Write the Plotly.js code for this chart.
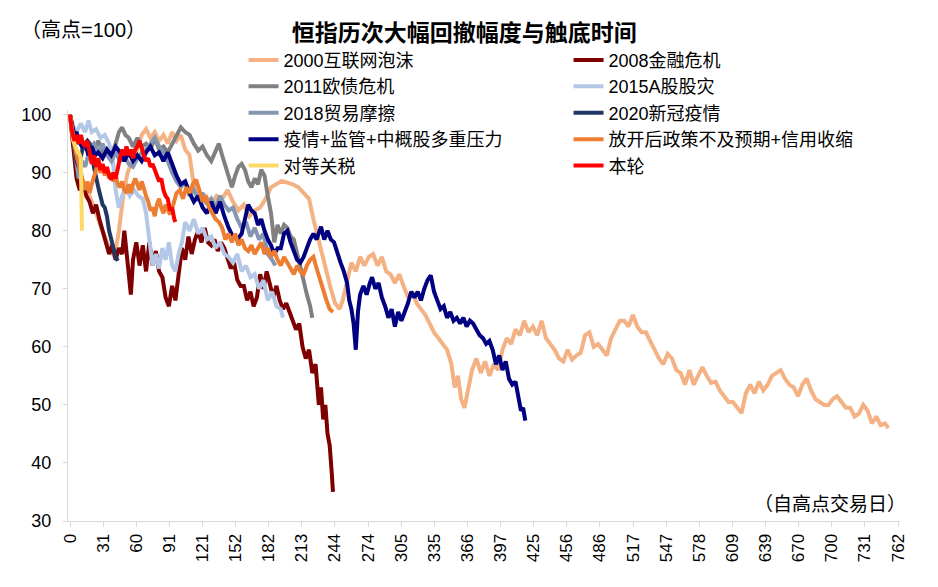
<!DOCTYPE html>
<html>
<head>
<meta charset="utf-8">
<script src="https://cdn.plot.ly/plotly-3.0.1.min.js"></script>
<style>
  html, body { margin: 0; padding: 0; background: #fff; }
  #chart { width: 938px; height: 587px; }
</style>
</head>
<body>
<div id="chart"></div>
<script>
// 横轴刻度（自高点交易日）
var tickLabels = ["0", "31", "60", "91", "121", "152", "182", "213", "244", "274", "305", "335", "366",
    "397", "425", "456", "486", "517", "547", "578", "609", "639", "670", "700", "731", "762"];

// 2000互联网泡沫
var days2000 = [0, 2, 5, 8, 12, 18, 22, 26, 30, 34, 38, 41, 45, 49, 53, 57, 62, 66, 70, 74,
    78, 82, 86, 90, 94, 98, 102, 106, 110, 113, 116, 120, 125, 130, 135, 140, 145, 150, 155, 160,
    165, 170, 175, 180, 185, 190, 195, 200, 205, 210, 215, 220, 224, 228, 232, 236, 240, 244, 248, 251,
    255, 259, 263, 267, 271, 275, 279, 283, 287, 291, 295, 299, 303, 307, 311, 315, 319, 323, 327, 331, 335,
    339, 343, 347, 351, 354, 357, 360, 363, 366, 370, 374, 378, 382, 386, 390, 394, 398, 402, 406, 410,
    414, 418, 422, 426, 430, 434, 438, 442, 446, 450, 454, 458, 462, 466, 470, 474, 478, 482, 486, 490,
    494, 498, 502, 506, 510, 514, 518, 522, 526, 530, 534, 538, 542, 546, 550, 554, 558, 562, 566, 570,
    574, 578, 582, 586, 590, 594, 598, 602, 606, 610, 614, 618, 622, 626, 630, 634, 638, 642, 646, 650,
    654, 658, 662, 666, 670, 674, 678, 682, 686, 690, 694, 698, 702, 706, 710, 714, 718, 722, 726, 730,
    734, 738, 742, 746, 750, 753];
var val2000 = [100, 96, 92, 89, 88, 86, 84, 82, 80, 78, 76.5, 75.5, 80, 86, 90, 92, 94, 96.5, 97.5, 96,
    97, 95.5, 96.5, 95, 97, 95.5, 96.5, 94, 93, 89, 86.5, 85.5, 86, 84.5, 86, 85.5, 87, 85, 83.5, 84.5,
    82.5, 83.5, 84, 85.5, 87.5, 88, 88.6, 88.3, 88, 87.5, 86.5, 85.5, 82, 79, 75.5, 73, 70, 67.5, 66.5, 68,
    71.5, 74.5, 73, 75.5, 74, 75.5, 76, 74, 75.5, 73, 72.5, 71, 72.5, 70.5, 68.5, 69.5, 67.5, 66.5, 65.5, 64, 62.5,
    61.5, 60.5, 59.5, 57, 53, 55, 51, 49.5, 52.5, 56, 58, 55.5, 57.5, 55, 57, 56, 59.5, 61.5, 60.5, 63,
    62, 64.5, 62.5, 63.5, 62, 64.5, 61.5, 60.5, 59.5, 58, 57.5, 59.5, 57.8, 58.5, 59, 62, 62.5, 60, 60.5, 59.5,
    58.5, 61.5, 63, 64.5, 64.5, 63.5, 65.5, 63.5, 62.5, 62.5, 61, 59.5, 58, 57, 58.8, 58, 56, 55.5, 53.5, 56,
    53.5, 55, 56.5, 55, 53.8, 54, 52.5, 51.5, 50.5, 50.5, 49.5, 48.6, 52, 53.5, 52, 54, 52.5, 53.5, 55, 55.5,
    56, 54.5, 53.5, 53, 51.5, 53.5, 54.5, 52.5, 51, 50.5, 50, 50, 51, 51.5, 50.5, 49.5, 49.5, 48, 48.5, 50,
    49, 46.8, 48, 46.5, 46.8, 46];

// 2008金融危机
var days2008 = [0, 2, 4, 6, 9, 12, 15, 18, 21, 24, 27, 30, 33, 36, 39, 42, 45, 48, 50, 52,
    54, 56, 58, 61, 64, 67, 70, 73, 76, 79, 82, 85, 88, 91, 94, 97, 100, 103, 106, 109,
    112, 115, 118, 121, 124, 127, 130, 133, 136, 139, 142, 145, 148, 151, 154, 157, 160, 163, 166, 169,
    172, 175, 178, 181, 184, 187, 190, 193, 196, 199, 202, 205, 208, 211, 214, 217, 220, 223, 226, 229,
    231, 233, 235, 237, 239, 241, 242];
var val2008 = [100, 96, 92, 89, 87, 88.5, 86, 85, 83, 84.5, 82, 80, 78.5, 76, 77.5, 75, 77, 76, 80, 76,
    72, 69, 75, 78, 74, 77.5, 73, 78, 74, 76.5, 73, 72, 68.5, 67, 70.5, 68, 72.5, 77, 75, 79,
    76, 78.5, 80, 78, 80.5, 78, 77.5, 78.5, 76.5, 78, 77, 75, 73.5, 74.5, 71.5, 70.5, 70.5, 68, 69.5, 67,
    68.5, 72.5, 70, 73, 70.5, 68.5, 70.5, 68, 66.5, 67.5, 66, 64.5, 63, 64, 60, 58, 59.5, 55.5, 57, 50,
    53, 47.5, 50, 45, 43, 38, 35];

// 2011欧债危机
var days2011 = [0, 3, 6, 10, 14, 18, 22, 26, 30, 34, 38, 42, 45, 48, 51, 54, 58, 62, 66, 70,
    74, 78, 82, 86, 90, 94, 98, 102, 106, 110, 114, 118, 122, 126, 130, 134, 137, 140, 143, 146,
    149, 152, 155, 158, 161, 164, 167, 170, 173, 176, 179, 182, 185, 188, 191, 194, 197, 200, 203, 206,
    209, 212, 215, 218, 221, 223];
var val2011 = [100, 97, 95, 96, 94, 95, 94, 95.5, 93.5, 94, 93, 95, 97, 97.8, 96.5, 96, 94.5, 96, 94.5, 95,
    94, 96, 94, 94.5, 93.5, 95, 96.5, 97.8, 97, 96.5, 95, 93.8, 94.5, 93, 92, 93.5, 95, 93, 91, 89,
    87.5, 89.5, 91, 91.5, 90.5, 88.5, 87.5, 89, 88, 90.5, 89.5, 86, 83, 78, 81, 79.5, 81, 80.5, 79, 78.5,
    76, 74, 71.5, 69, 67, 65];

// 2015A股股灾
var days2015 = [0, 3, 6, 10, 14, 17, 20, 24, 28, 32, 36, 39, 42, 45, 48, 51, 55, 59, 63, 67,
    70, 73, 76, 79, 82, 85, 88, 91, 94, 97, 100, 103, 106, 110, 114, 118, 122, 126, 130, 134,
    138, 142, 146, 150, 154, 158, 162, 166, 170, 174, 178, 182, 186, 190, 194, 196];
var val2015 = [100, 98, 97, 98.5, 97, 99, 97, 97.5, 96, 96.5, 95, 93, 87, 84, 86, 87.5, 86, 87, 86, 85.5,
    83, 78, 74, 76, 73.5, 77, 75, 78, 74, 73, 76, 78, 81.5, 80, 82, 79.5, 80.5, 78.5, 79, 77,
    78, 76, 75.5, 74.5, 76, 73, 74, 72, 72.5, 70, 71.5, 68, 69.5, 67, 66.5, 65];

// 2018贸易摩擦
var days2018 = [0, 3, 6, 8, 11, 14, 18, 22, 26, 30, 34, 38, 42, 46, 50, 54, 58, 62, 66, 70,
    74, 78, 82, 86, 90, 94, 98, 102, 106, 110, 114, 118, 122, 126, 130, 134, 138, 142, 146, 150,
    154, 158, 162, 166, 170, 174, 178, 182, 186, 189];
var val2018 = [100, 96, 91, 89, 92, 91, 94, 95, 93.5, 95, 93, 92, 93.5, 92, 93, 91.5, 91, 92.5, 93.5, 94,
    95, 96, 94.5, 93.5, 92, 90, 88.5, 87.5, 88.5, 86, 87, 85.5, 86.5, 84.5, 85.5, 84, 86, 84.5, 83.5, 84,
    82, 80.5, 81.5, 79, 80.5, 78.5, 79.5, 76, 75, 74];

// 2020新冠疫情
var days2020 = [0, 2, 4, 6, 8, 10, 12, 14, 16, 18, 20, 22, 24, 26, 28, 30, 32, 34, 36, 38, 40, 42, 44];
var val2020 = [100, 97, 94, 92, 91, 93, 94.5, 95, 95.5, 95, 94, 91, 89, 87.5, 86, 84.5, 84, 82.5, 80, 78.5, 77, 75.5, 74.8];

// 疫情+监管+中概股多重压力
var daysCovid = [0, 2, 4, 6, 8, 11, 14, 17, 20, 23, 26, 30, 34, 38, 42, 46, 50, 54, 58, 62,
    66, 70, 74, 78, 82, 86, 90, 94, 98, 102, 106, 110, 114, 118, 122, 126, 130, 134, 138, 142,
    146, 150, 154, 158, 161, 164, 167, 170, 173, 176, 179, 182, 185, 188, 191, 194, 197, 200, 203, 206,
    209, 212, 215, 218, 221, 224, 227, 231, 234, 237, 240, 243, 246, 249, 252, 255, 257, 259, 261, 263,
    265, 267, 270, 273, 276, 278, 281, 284, 287, 290, 293, 296, 299, 302, 305, 308, 311, 314, 317, 320,
    323, 326, 329, 332, 335, 338, 341, 344, 347, 350, 353, 356, 359, 362, 365, 368, 371, 374, 377, 380,
    383, 386, 389, 392, 395, 398, 401, 404, 407, 410, 413, 415, 417, 419];
var valCovid = [100, 98, 96.5, 97, 95.5, 94.5, 95, 93, 94.5, 93, 93.5, 92.5, 94, 93, 94.5, 93.5, 92, 93.5, 92, 93,
    92, 93.5, 94.5, 93, 93.5, 92, 93.5, 91.5, 89.5, 88, 88.5, 86.5, 85, 86, 84, 83, 85, 83, 85, 82.5,
    80.5, 79, 78.5, 79.5, 82, 84.5, 83.5, 83, 81, 82, 80, 78.5, 77.5, 76, 77, 77, 79.5, 80, 78, 76.5,
    75, 74.5, 75.5, 77, 78.5, 79.5, 78.5, 80.7, 78.5, 80, 78.5, 78, 76, 74.5, 73, 71, 68, 66.5, 64, 59.5,
    66, 69, 70.5, 69, 71, 72, 70, 71, 68.5, 67, 65, 66.5, 63.5, 66, 64.5, 66, 67.5, 69.5, 68.5, 69.5,
    68, 70, 71.5, 72.3, 69.5, 68, 66.5, 67, 65, 66, 64.5, 65, 64, 65, 63.5, 64.5, 64, 63, 62, 61.5,
    60.5, 61, 59.5, 57, 58.5, 56, 57.5, 54.5, 53.5, 54, 51, 49, 49.5, 47.3];

// 放开后政策不及预期+信用收缩
var daysReopen = [0, 2, 4, 6, 8, 10, 12, 14, 16, 18, 20, 22, 24, 26, 28, 30, 32, 34, 36, 38,
    40, 42, 44, 46, 48, 50, 52, 54, 56, 58, 60, 62, 64, 66, 68, 70, 72, 74, 76, 78,
    80, 82, 84, 86, 88, 90, 92, 95, 98, 101, 104, 107, 110, 113, 116, 119, 122, 125, 128, 131,
    134, 137, 140, 143, 146, 149, 152, 155, 158, 161, 164, 167, 170, 173, 176, 179, 182, 185, 188, 191,
    194, 197, 200, 203, 206, 209, 212, 215, 218, 221, 224, 227, 230, 233, 236, 239, 242];
var valReopen = [100, 97, 95, 93, 91.5, 90, 88, 87, 88.5, 86.5, 88, 89.5, 90.5, 91.5, 90, 91, 89.5, 90.5, 89, 90,
    88.5, 89.5, 88, 87.5, 88.5, 87, 86.5, 88, 86.5, 88, 89, 88, 87, 88.5, 87, 86, 85, 83.5, 84, 82.5,
    84.5, 85.5, 84, 83, 84.5, 83.5, 82.8, 84.5, 86.5, 87, 85.5, 87.5, 86.5, 88, 88.8, 87, 85, 86, 84, 83,
    82, 81.5, 80.5, 78.5, 79.5, 78, 79.5, 77.5, 78.5, 77, 76.5, 77.5, 76, 77, 78, 76, 77, 75.5, 76.5, 75,
    74, 75.5, 74.5, 73.5, 72.5, 74, 73, 72.5, 74, 75, 75.5, 73.5, 71.5, 70, 68, 66.5, 66];

// 对等关税
var daysTariff = [0, 1, 2, 3, 4, 5, 6, 7, 8, 9, 10, 11];
var valTariff = [100, 98, 96.5, 95.5, 95, 94.5, 94, 93.5, 93.5, 93, 92.5, 80];

// 本轮
var daysNow = [0, 2, 4, 6, 8, 10, 12, 14, 16, 18, 20, 22, 24, 26, 28, 30, 32, 34, 36, 38,
    40, 42, 44, 46, 48, 50, 52, 54, 56, 58, 60, 62, 64, 66, 68, 70, 72, 74, 76, 78,
    80, 82, 84, 86, 88, 90, 92, 94, 96, 97];
var valNow = [100, 97, 95.5, 96.5, 95, 96.5, 95, 94.5, 95.5, 93, 91.5, 93, 91, 92.5, 90.5, 91.5, 90, 91, 89.5, 88.8,
    90, 89, 91, 92.5, 94, 93, 94.5, 93, 94, 92.5, 94, 94.5, 95.5, 94, 93, 92, 92.5, 91, 91.5, 90.5,
    89.5, 88.5, 89, 87, 86, 85.5, 83.5, 84, 82, 81.5];

var seriesList = [
    {name: "2000互联网泡沫", x: days2000, y: val2000, color: "#F4B183"},
    {name: "2008金融危机", x: days2008, y: val2008, color: "#7F0000"},
    {name: "2011欧债危机", x: days2011, y: val2011, color: "#808080"},
    {name: "2015A股股灾", x: days2015, y: val2015, color: "#B4C7E7"},
    {name: "2018贸易摩擦", x: days2018, y: val2018, color: "#8497B0"},
    {name: "2020新冠疫情", x: days2020, y: val2020, color: "#203864"},
    {name: "疫情+监管+中概股多重压力", x: daysCovid, y: valCovid, color: "#000080"},
    {name: "放开后政策不及预期+信用收缩", x: daysReopen, y: valReopen, color: "#ED7D31"},
    {name: "对等关税", x: daysTariff, y: valTariff, color: "#FFD966"},
    {name: "本轮", x: daysNow, y: valNow, color: "#FF0000"}
];

var data = seriesList.map(function(s) {
    return {
        type: "scatter",
        mode: "lines",
        name: s.name,
        x: s.x,
        y: s.y,
        line: {color: s.color, width: 4}
    };
});

// 刻度等距排布
var tickVals = tickLabels.map(function(t, i) { return i * 762 / (tickLabels.length - 1); });

var fontFamily = "Arial, 'Liberation Sans', 'Noto Sans CJK SC', sans-serif";

var layout = {
    width: 938,
    height: 587,
    paper_bgcolor: "#ffffff",
    plot_bgcolor: "#ffffff",
    font: {family: fontFamily, color: "#000000", size: 16},
    margin: {l: 68, r: 38, t: 110, b: 66, autoexpand: false},
    title: {
        text: "恒指历次大幅回撤幅度与触底时间",
        font: {size: 23, weight: "bold", color: "#000000", family: fontFamily},
        x: 0.495, xanchor: "center",
        y: 0.944, yanchor: "middle"
    },
    showlegend: true,
    legend: {
        orientation: "h",
        x: 0.211, xanchor: "left",
        y: 1.166, yanchor: "top",
        entrywidth: 280,
        entrywidthmode: "pixels",
        font: {size: 18, family: fontFamily, color: "#000000"},
        bgcolor: "rgba(0,0,0,0)",
        traceorder: "normal"
    },
    xaxis: {
        range: [-1.84, 763.84],
        tickmode: "array",
        tickvals: tickVals,
        ticktext: tickLabels,
        tickangle: -90,
        tickfont: {size: 17, family: fontFamily, color: "#000000"},
        ticks: "outside",
        ticklen: 5,
        tickcolor: "#D9D9D9",
        showline: true,
        linecolor: "#D9D9D9",
        linewidth: 1,
        showgrid: false,
        zeroline: false,
        fixedrange: true
    },
    yaxis: {
        range: [30, 100.8],
        tickmode: "array",
        tickvals: [30, 40, 50, 60, 70, 80, 90, 100],
        tickfont: {size: 18, family: fontFamily, color: "#000000"},
        ticks: "outside",
        ticklen: 4,
        tickcolor: "#D9D9D9",
        ticklabelstandoff: 8,
        showline: true,
        linecolor: "#D9D9D9",
        linewidth: 1,
        showgrid: false,
        zeroline: false,
        fixedrange: true
    },
    annotations: [
        {
            text: "（高点=100）",
            xref: "paper", yref: "paper",
            x: 0.019, y: 1.195,
            xanchor: "center", yanchor: "middle",
            showarrow: false,
            font: {size: 20, family: fontFamily, color: "#000000"}
        },
        {
            text: "（自高点交易日）",
            xref: "paper", yref: "paper",
            x: 1.01, y: 0.039,
            xanchor: "right", yanchor: "middle",
            showarrow: false,
            font: {size: 19, family: fontFamily, color: "#000000"}
        }
    ]
};

Plotly.newPlot("chart", data, layout, {staticPlot: true, displayModeBar: false});
</script>
</body>
</html>
